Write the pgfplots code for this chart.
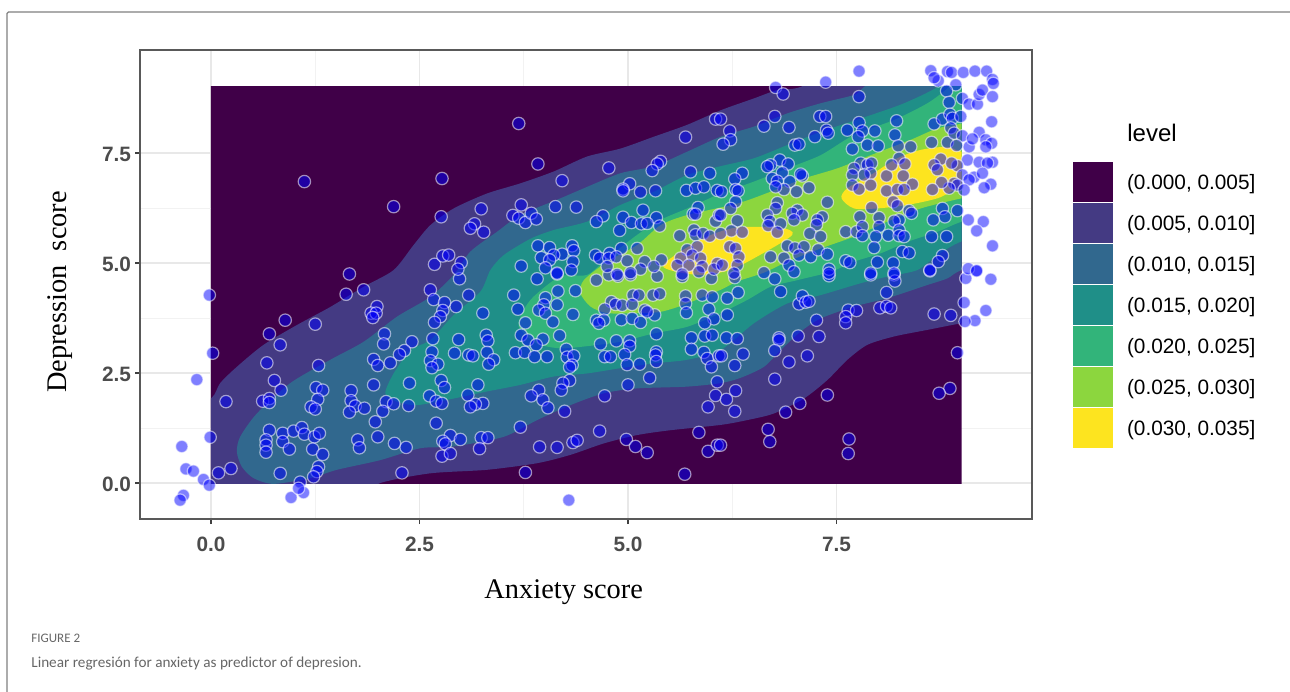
\documentclass[border=0pt]{standalone}
\usepackage{pgfplots}
\pgfplotsset{compat=1.18}
\usepackage{fontspec}
\setmainfont{Liberation Sans}
\newfontfamily\serifl{Liberation Serif}
\newfontfamily\capfont{Carlito}
\definecolor{lv1}{HTML}{400048}
\definecolor{lv2}{HTML}{443A83}
\definecolor{lv3}{HTML}{31688E}
\definecolor{lv4}{HTML}{1F8F88}
\definecolor{lv5}{HTML}{32B47A}
\definecolor{lv6}{HTML}{8CD63E}
\definecolor{lv7}{HTML}{FDE41F}
\begin{document}
\begin{tikzpicture}[x=1pt,y=1pt]
\path[use as bounding box] (0,0) rectangle (645,345.5);
\draw[color=black!50,line width=0.6pt,rounded corners=0.8pt] (3.5,-2) -- (3.5,339.5) -- (648,339.5);
\node[anchor=base west,text=black!60,inner sep=0pt,font=\capfont\fontsize{6.5}{8}\selectfont] at (15.5,24.5) {FIGURE 2};
\node[anchor=base west,text=black!60,inner sep=0pt,font=\capfont\fontsize{7.6}{10}\selectfont] at (15.5,12) {Linear regresión for anxiety as predictor of depresion.};
\node[anchor=base west,inner sep=0pt,font=\fontsize{12}{14}\selectfont] at (563.5,274.5) {level};
\begin{axis}[
  at={(70pt,86pt)},anchor=south west,
  scale only axis,width=446pt,height=234.5pt,
  xmin=-0.851,xmax=9.844,ymin=-0.818,ymax=9.84,
  xtick={0,2.5,5,7.5},ytick={0,2.5,5,7.5},
  minor x tick num=1,minor y tick num=1,
  grid=both,
  major grid style={draw=black!9,line width=0.6pt},
  minor grid style={draw=black!5,line width=0.4pt},
  tick pos=left,tick align=outside,
  major tick length=2.5pt,minor tick length=0pt,
  major tick style={draw=black!75,line width=0.6pt},
  axis line style={draw=black!65,line width=0.6pt},
  /pgf/number format/.cd,fixed,fixed zerofill,precision=1,assume math mode=true,/pgfplots/.cd,
  tick label style={font=\bfseries\fontsize{10.4}{12}\selectfont,text=black!70},
  xticklabel style={yshift=-3pt},
  yticklabel style={xshift=1.5pt,yshift=-0.5pt},
  xlabel={Anxiety score},ylabel={Depression\ \ score},
  xlabel style={at={(0.475,-0.155)},anchor=center,font=\serifl\fontsize{14.2}{16}\selectfont},
  ylabel style={at={(-0.090,0.484)},anchor=center,rotate=0,font=\serifl\fontsize{14.2}{16}\selectfont},
  legend style={draw=none,fill=none,at={(1.046,0.761)},anchor=north west,inner sep=0pt,outer sep=0pt,
    row sep=0.5pt,font=\fontsize{10.4}{12}\selectfont,
    /tikz/every odd column/.append style={column sep=5pt}},
  legend cell align=left,
  legend image code/.code={\fill[#1] (0pt,-9.4pt) rectangle (20pt,10.6pt);},
]
\begin{scope}
\clip (axis cs:0,0) rectangle (axis cs:9,9);
\addplot[fill=lv1,draw=none] coordinates {(-0.5,-0.5)(9.5,-0.5)(9.5,9.5)(-0.5,9.5)} -- cycle;
\addlegendentry{(0.000, 0.005]}
\addplot[fill=lv2,draw=none,smooth cycle,tension=0.45] coordinates {
(1.6,-0.4)(2.03,0)(2.63,0.22)(3.31,0.30)(3.91,0.45)(4.31,0.64)(4.71,0.90)(5.11,1.09)(5.51,1.20)(6.11,1.32)(6.43,1.43)(6.75,1.58)(7.11,1.92)(7.39,2.34)(7.63,2.80)(7.87,3.14)(8.19,3.33)(8.59,3.48)(9.0,3.63)(9.6,3.8)(9.7,9.7)(7.6,9.5)(7.07,9.0)(6.79,8.93)(6.51,8.74)(6.11,8.47)(5.71,8.14)(5.31,7.87)(4.91,7.60)(4.51,7.42)(4.11,7.08)(3.71,6.81)(3.31,6.58)(2.91,6.24)(2.63,5.86)(2.43,5.41)(2.19,4.84)(1.83,4.46)(1.43,4.00)(1.03,3.59)(0.63,3.14)(0.31,2.64)(0.11,2.27)(0,1.92)(-0.4,1.5)(-0.7,-0.7)};
\addlegendentry{(0.005, 0.010]}
\addplot[fill=lv3,draw=none,smooth cycle,tension=0.45] coordinates {
(0.31,0.71)(0.37,0.37)(0.51,0.11)(0.75,-0.02)(1.19,0.11)(1.51,0.30)(2.03,0.52)(2.51,0.79)(2.91,0.83)(3.51,1.05)(3.91,1.43)(4.31,1.77)(4.71,2.04)(5.11,2.15)(5.71,2.19)(6.11,2.27)(6.35,2.39)(6.63,2.64)(6.83,3.02)(7.07,3.44)(7.31,3.74)(7.71,4.01)(8.11,4.20)(8.59,4.50)(8.83,4.65)(9.0,4.84)(9.6,5.2)(9.7,9.7)(8.2,9.5)(7.83,9.0)(7.71,8.82)(7.31,8.63)(6.91,8.40)(6.51,8.10)(6.11,7.87)(5.71,7.53)(5.31,7.20)(4.91,7.04)(4.51,6.73)(4.19,6.47)(3.71,6.09)(3.43,5.71)(3.11,5.26)(2.91,4.73)(2.63,4.23)(2.23,3.78)(1.83,3.21)(1.43,2.80)(0.95,2.27)(0.55,1.58)(0.35,1.05)};
\addlegendentry{(0.010, 0.015]}
\addplot[fill=lv4,draw=none,smooth cycle,tension=0.45] coordinates {
(2.09,2.04)(2.23,1.85)(2.47,1.77)(2.91,1.92)(3.31,2.08)(3.71,2.23)(4.11,2.42)(4.51,2.49)(4.91,2.61)(5.31,2.72)(5.71,2.80)(6.11,3.02)(6.51,3.63)(6.91,4.08)(7.31,4.27)(7.79,4.54)(8.11,4.69)(8.47,4.84)(8.71,5.18)(9.0,5.49)(9.6,5.8)(9.7,9.7)(9.0,9.5)(8.71,9.0)(8.31,8.63)(7.91,8.36)(7.31,7.98)(6.91,7.68)(6.51,7.38)(6.11,7.20)(5.71,7.00)(5.31,6.62)(4.91,6.32)(4.51,5.94)(4.11,5.75)(3.83,5.55)(3.51,5.18)(3.35,4.84)(3.23,4.35)(2.91,3.82)(2.63,3.25)(2.39,3.02)(2.19,2.49)};
\addlegendentry{(0.015, 0.020]}
\addplot[fill=lv5,draw=none,smooth cycle,tension=0.45] coordinates {
(3.69,3.55)(3.91,3.17)(4.19,3.06)(4.51,3.11)(4.91,3.21)(5.31,3.40)(5.71,3.55)(6.11,3.86)(6.43,4.16)(6.71,4.46)(7.03,4.61)(7.43,4.80)(7.71,5.03)(8.03,5.22)(8.35,5.48)(8.71,5.71)(9.0,5.94)(9.6,6.3)(9.6,9.6)(8.91,9.2)(8.83,8.97)(8.59,8.63)(8.19,8.25)(7.71,7.91)(7.31,7.45)(6.91,7.15)(6.51,6.85)(6.11,6.58)(5.71,6.24)(5.39,5.98)(5.11,5.64)(4.75,5.11)(4.51,4.73)(4.19,4.70)(3.87,4.24)(3.75,3.93)};
\addlegendentry{(0.020, 0.025]}
\addplot[fill=lv6,draw=none,smooth cycle,tension=0.45] coordinates {
(4.43,4.31)(4.55,4.01)(4.75,3.86)(5.11,3.86)(5.39,3.89)(5.67,4.05)(6.11,4.39)(6.31,4.58)(6.63,4.78)(6.91,5.03)(7.31,5.33)(7.71,5.60)(8.11,5.94)(8.51,6.24)(9.0,6.47)(9.6,6.7)(9.6,8.5)(9.0,8.17)(8.71,8.06)(8.39,7.80)(7.91,7.45)(7.51,7.15)(7.11,6.92)(6.71,6.62)(6.31,6.35)(5.71,6.09)(5.39,5.86)(5.11,5.41)(4.75,5.03)(4.47,4.61)};
\addlegendentry{(0.025, 0.030]}
\addplot[fill=lv7,draw=none,smooth cycle,tension=0.5] coordinates {
(5.44,5.0)(5.86,5.52)(6.28,5.80)(6.82,5.80)(6.97,5.64)(6.58,5.18)(6.22,4.84)(5.86,4.73)(5.50,4.84)};
\addlegendentry{(0.030, 0.035]}
\addplot[forget plot,fill=lv7,draw=none,smooth cycle,tension=0.5] coordinates {
(7.56,6.47)(7.63,6.70)(7.91,7.00)(8.23,7.38)(8.51,7.57)(8.83,7.64)(9.0,7.53)(9.4,7.5)(9.4,6.6)(9.0,6.70)(8.71,6.47)(8.35,6.32)(7.99,6.24)(7.71,6.24)};
\end{scope}
\addplot[forget plot,only marks,mark=*,mark size=3.1pt,
 mark options={fill=blue,fill opacity=0.5,draw=white,draw opacity=0.55,line width=0.6pt}] coordinates {
(-0.02,4.27)(0.02,2.95)(-0.17,2.35)(0.18,1.85)(-0.01,1.04)(-0.35,0.83)(-0.30,0.32)(-0.21,0.27)(-0.09,0.08)(-0.02,-0.05)(-0.33,-0.28)(-0.37,-0.39)(0.09,0.23)(0.24,0.33)(1.66,4.75)(1.62,4.29)(1.83,4.39)(0.89,3.70)(1.25,3.61)(0.70,3.39)(0.83,3.14)(0.67,2.73)(1.29,2.67)(0.76,2.33)(0.84,2.11)(0.62,1.86)(0.70,1.92)(0.70,1.83)(1.26,2.17)(1.34,2.11)(1.28,1.90)(1.20,1.73)(1.25,1.68)(1.68,2.10)(1.68,1.87)(1.73,1.75)(1.66,1.61)(1.84,1.70)(1.95,2.23)(2.10,1.85)(2.19,1.80)(2.37,1.76)(2.38,2.27)(2.06,1.63)(1.97,1.39)(2.00,1.05)(2.20,0.90)(2.34,0.81)(1.76,0.98)(1.78,0.80)(2.29,0.23)(0.70,1.20)(0.66,0.98)(0.66,0.86)(0.66,0.70)(0.86,1.13)(0.86,0.94)(0.94,0.77)(0.99,1.18)(1.09,1.26)(1.12,1.11)(1.24,1.05)(1.30,1.13)(1.22,0.77)(1.34,0.65)(1.29,0.37)(1.27,0.26)(1.23,0.14)(0.83,0.22)(1.07,0.02)(0.96,-0.33)(1.11,-0.22)(1.05,-0.12)(1.99,4.01)(1.92,3.86)(1.98,3.86)(1.94,3.76)(2.08,3.39)(2.07,3.16)(2.41,3.21)(2.32,3.01)(2.26,2.92)(1.95,2.81)(2.00,2.67)(2.15,2.73)(2.98,4.64)(2.63,4.39)(2.67,4.17)(2.80,4.10)(2.94,4.01)(3.09,4.27)(2.78,3.92)(2.75,3.78)(2.68,3.65)(3.26,3.86)(3.63,4.27)(3.68,3.95)(3.91,4.64)(4.15,4.75)(4.01,4.21)(4.16,4.36)(4.37,4.37)(4.15,4.05)(3.99,4.05)(3.93,3.93)(4.01,3.86)(4.10,3.66)(4.34,3.83)(3.77,3.64)(4.62,4.61)(4.77,4.73)(4.88,4.70)(5.03,4.73)(5.35,4.70)(5.65,4.69)(6.00,4.65)(5.06,4.27)(5.13,4.27)(5.30,4.27)(5.38,4.30)(5.69,4.25)(5.69,4.08)(5.70,3.87)(5.89,4.27)(6.01,4.23)(4.80,4.12)(4.85,4.06)(4.93,4.04)(5.05,4.06)(4.72,3.95)(5.20,3.93)(5.32,3.82)(5.23,3.89)(4.62,3.70)(4.71,3.70)(4.65,3.63)(4.92,3.71)(5.05,3.74)(5.15,3.65)(5.97,3.95)(6.03,3.73)(5.92,3.64)(5.34,3.39)(5.92,3.34)(6.01,3.36)(5.76,3.30)(5.76,3.04)(5.91,2.97)(5.95,2.83)(6.00,2.64)(6.09,2.89)(2.66,3.28)(2.97,3.26)(3.30,3.36)(3.32,3.23)(3.31,2.97)(2.65,2.98)(2.92,2.95)(3.09,2.91)(3.14,2.89)(3.39,2.80)(3.33,2.70)(2.63,2.78)(2.72,2.70)(2.65,2.62)(3.72,3.36)(3.80,3.25)(3.98,3.27)(4.18,3.35)(3.90,3.14)(3.65,2.96)(3.76,2.97)(3.88,2.87)(4.03,2.87)(4.26,3.04)(4.27,2.86)(4.35,2.89)(4.33,2.68)(4.30,2.63)(4.67,3.16)(4.86,3.23)(5.02,3.23)(5.02,3.11)(4.96,2.92)(4.72,2.87)(4.79,2.87)(4.99,2.69)(5.14,2.70)(5.34,2.98)(5.33,2.91)(5.34,2.76)(5.26,2.39)(5.00,2.23)(4.30,2.33)(4.22,2.27)(4.20,2.11)(4.72,1.98)(2.76,2.33)(2.80,2.17)(3.20,2.23)(2.62,1.98)(3.08,2.00)(2.70,1.86)(2.77,1.81)(3.26,1.81)(3.17,1.79)(3.11,1.73)(3.93,2.11)(3.84,1.98)(3.98,1.89)(4.04,1.71)(4.24,1.63)(2.70,1.36)(3.71,1.27)(2.87,1.08)(2.78,0.95)(2.81,0.89)(2.99,0.99)(3.24,1.03)(3.32,1.03)(3.22,0.78)(2.77,0.61)(2.87,0.67)(3.94,0.82)(4.15,0.81)(4.34,0.92)(4.39,0.97)(4.66,1.18)(4.98,0.99)(5.09,0.83)(5.23,0.69)(3.77,0.24)(5.68,0.20)(4.29,-0.39)(5.85,1.15)(5.96,0.72)(6.07,0.86)(5.96,1.73)(6.05,1.99)(6.07,2.30)
(6.28,4.67)(6.32,4.33)(6.19,4.20)(6.83,4.35)(6.76,4.64)(7.41,4.71)(7.91,4.73)(8.19,4.73)(8.20,4.59)(8.10,4.33)(8.62,4.82)(9.05,4.65)(9.35,4.63)(9.18,4.83)(9.03,4.10)(9.29,3.92)(9.16,3.69)(9.04,3.67)(8.67,3.84)(8.87,3.81)(8.95,2.96)(8.86,2.15)(8.73,2.04)(8.02,3.98)(8.10,4.02)(8.15,3.98)(7.64,3.93)(7.74,3.92)(7.61,3.78)(7.61,3.64)(7.05,4.07)(7.09,4.25)(7.13,4.11)(7.17,4.13)(7.26,3.70)(7.29,3.33)(7.04,3.34)(6.81,3.30)(6.81,3.25)(6.76,3.01)(7.15,2.89)(6.93,2.75)(6.76,2.36)(6.18,3.30)(6.31,3.28)(6.38,2.93)(6.12,2.89)(6.28,2.67)(6.29,2.10)(6.18,1.90)(6.28,1.63)(7.06,1.81)(6.89,1.61)(7.39,2.00)(6.68,1.22)(6.70,0.94)(7.65,1.00)(7.64,0.67)(6.11,0.86)(6.19,3.82)
(1.12,6.85)(2.19,6.28)
(3.69,8.17)(3.92,7.25)(2.77,6.92)(2.76,6.05)(4.21,6.87)(4.77,7.16)(5.69,7.86)(6.05,8.27)(5.39,7.31)(5.35,7.25)(5.29,7.10)(3.24,6.23)(3.16,5.89)(3.11,5.79)(3.27,5.70)(3.72,6.32)(3.62,6.08)(3.69,6.02)(3.77,5.92)(3.84,6.13)(3.90,6.00)(4.13,6.28)(4.38,6.27)(4.70,6.07)(4.62,5.94)(5.02,6.80)(4.94,6.68)(4.94,6.64)(5.15,6.61)(5.33,6.64)(5.75,7.07)(5.98,7.04)(5.70,6.65)(5.81,6.70)(5.91,6.73)(6.07,6.65)(4.94,6.04)(5.04,5.92)(5.18,6.20)(5.34,6.03)(5.38,5.84)(5.16,5.89)(5.23,5.90)(4.90,5.74)(5.84,6.26)(5.78,6.11)(5.81,6.11)(6.05,5.95)(5.62,5.62)(5.79,5.75)(5.81,5.64)(5.90,5.67)(5.98,5.61)(3.92,5.39)(4.06,5.35)(4.21,5.20)(4.33,5.39)(4.35,5.28)(3.96,5.12)(4.11,5.18)(4.06,5.07)(4.34,5.03)(3.72,4.93)(4.01,4.89)(4.15,4.77)(4.32,4.84)(2.68,4.97)(2.78,5.16)(2.85,5.18)(3.00,5.01)(2.96,4.86)(4.61,5.18)(4.66,5.11)(4.78,5.22)(4.77,5.11)(4.92,5.33)(5.11,5.33)(4.86,5.14)(4.99,5.05)(5.20,5.03)(5.40,5.07)(4.75,4.92)(5.15,4.86)(5.31,4.92)(5.03,4.78)(4.87,4.74)(5.71,5.30)(5.83,5.37)(5.77,5.18)(5.63,5.11)(5.87,5.11)(5.59,4.95)(5.73,4.95)(5.89,4.92)(6.07,4.99)(6.03,4.86)(5.65,4.75)(5.85,4.80)(6.09,6.09)
(6.77,8.99)(6.86,8.84)(7.37,9.11)(7.77,9.36)(7.77,8.78)(8.63,9.37)(8.83,9.35)(8.88,9.33)(9.02,9.33)(9.16,9.36)(9.30,9.36)(9.37,9.17)(9.38,9.08)(8.72,9.14)(8.67,9.21)(8.93,9.05)(8.82,8.91)(8.85,8.65)(9.01,8.74)(9.09,8.61)(9.19,8.61)(9.21,8.83)(9.25,8.93)(9.37,8.78)(9.36,8.21)(6.76,8.33)(6.63,8.11)(6.93,8.08)(7.30,8.33)(7.37,8.33)(7.38,8.02)(7.40,7.95)(7.24,7.87)(7.00,7.68)(7.05,7.70)(7.63,8.02)(7.77,8.19)(7.81,8.00)(7.76,7.87)(7.96,8.00)(8.22,8.23)(8.20,7.91)(7.69,7.59)(7.87,7.68)(8.00,7.66)(8.24,7.66)(8.39,7.64)(8.25,7.38)(8.64,7.74)(8.83,7.74)(8.67,8.16)(8.77,8.27)(8.86,8.38)(8.89,8.29)(8.99,8.33)(8.87,8.07)(8.91,7.95)(9.01,7.89)(9.09,7.64)(8.94,7.67)(9.21,7.97)(9.13,7.82)(9.29,7.80)(9.36,7.72)(9.29,7.64)(9.07,7.34)(9.21,7.29)(9.37,7.29)(9.31,7.27)(8.95,7.21)(8.75,7.36)(8.67,7.23)(8.71,7.12)(8.88,7.27)(9.01,7.00)(9.15,6.95)(9.25,7.04)(9.35,6.79)(9.27,6.71)(9.09,6.89)(8.91,6.81)(8.95,6.77)(9.03,6.66)(8.85,6.70)(8.76,6.83)(8.65,6.67)
(7.79,7.27)(7.71,7.15)(7.87,7.23)(7.92,7.27)(7.91,7.04)(7.83,7.00)(7.69,7.00)(7.69,6.77)(7.77,6.68)(7.91,6.77)(8.10,6.98)(8.16,7.23)(8.32,7.25)(8.30,6.98)(8.41,6.79)(8.10,6.64)(8.23,6.67)(8.31,6.67)(8.18,6.39)(8.23,6.30)(8.37,6.19)(8.40,6.13)(7.92,6.26)(8.01,6.03)(7.78,6.05)(8.25,5.98)(8.19,5.95)(8.77,6.24)(8.80,6.05)(8.95,6.19)(8.66,5.98)(9.08,5.98)(9.26,5.94)(9.18,5.73)(9.37,5.39)(8.64,5.60)(8.82,5.60)(7.61,5.71)(7.74,5.71)(7.81,5.83)(7.81,5.62)(8.01,5.83)(7.97,5.60)(8.12,5.63)(8.25,5.75)(8.25,5.62)(8.31,5.60)(7.95,5.35)(8.29,5.26)(8.37,5.23)(7.61,5.05)(7.66,5.01)(7.99,5.02)(8.18,5.00)(7.91,4.77)(8.19,4.77)(8.62,4.84)(8.77,5.17)(8.72,5.03)(9.08,4.87)(9.18,4.82)
(6.37,7.04)(6.28,6.91)(6.12,6.62)(6.29,6.67)(6.32,6.64)(6.29,6.39)(6.23,6.24)(6.31,5.96)(6.24,5.73)(6.37,5.70)(6.11,6.09)(6.11,5.67)(6.22,8.00)(6.23,7.80)(6.14,7.70)(6.11,8.27)(6.82,7.34)(6.92,7.25)(6.71,7.23)(6.67,7.19)(6.85,7.05)(6.73,6.92)(6.79,6.86)(6.94,6.85)(7.09,6.98)(7.07,7.02)(7.17,6.71)(7.02,6.62)(6.87,6.67)(6.77,6.73)(7.39,6.38)(6.79,6.37)(6.77,6.24)(6.67,6.09)(6.70,5.95)(6.68,5.85)(6.83,5.89)(6.79,5.70)(7.03,6.20)(6.97,6.13)(7.09,6.09)(6.99,5.98)(7.33,6.05)(7.27,5.98)(7.26,5.87)(7.18,5.67)(7.31,5.60)(6.91,5.39)(7.00,5.34)(7.11,5.37)(7.05,5.18)(7.19,5.14)(7.28,5.30)(7.39,5.20)(6.71,5.14)(6.87,5.11)(6.93,4.95)(6.63,4.78)(6.99,4.80)(7.41,4.86)(7.41,4.77)(6.22,5.37)(6.29,5.33)(6.33,5.14)(6.31,4.95)(6.13,4.95)(6.27,4.77)
};
\end{axis}
\end{tikzpicture}
\end{document}
